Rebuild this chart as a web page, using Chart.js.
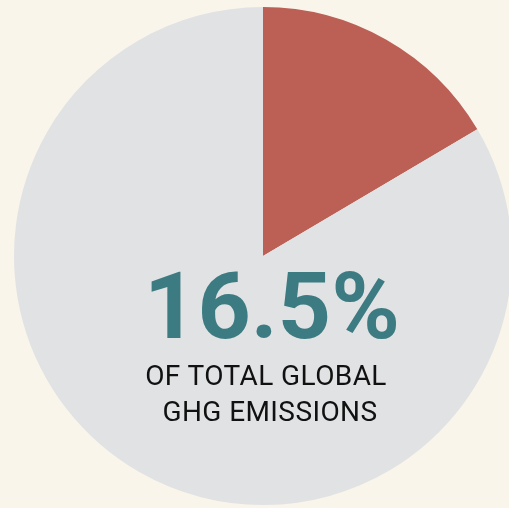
<!DOCTYPE html>
<html lang="en">

<head>
  <meta charset="UTF-8">
  <meta name="viewport" content="width=device-width, initial-scale=1.0">
  <title>GHG share</title>
  <style>
    body { margin: 0; background: #f9f5ea; overflow: hidden; width: 509px; height: 508px; position: relative; font-family: Roboto, sans-serif; }
    #caixa { position: absolute; left: 0; top: 7px; width: 526px; height: 498px; }
    .txt { position: absolute; width: 400px; text-align: center; white-space: nowrap; }
    #grande { top: 260px; left: 72px; font-size: 93px; line-height: 1; font-weight: 700; color: #3d7b82; }
    .linha { font-size: 28px; line-height: 36px; letter-spacing: 0.4px; color: #111; }
    #l1 { top: 358px; left: 66px; }
    #l2 { top: 394px; left: 70px; }
  </style>
</head>

<body>
  <div id="caixa"><canvas id="grafico1"></canvas></div>
  <div class="txt" id="grande">16.5%</div>
  <div class="txt linha" id="l1">OF TOTAL GLOBAL</div>
  <div class="txt linha" id="l2">GHG EMISSIONS</div>

  <script src="https://cdn.jsdelivr.net/npm/chart.js"></script>

  <script>
    const ctx = document.getElementById('grafico1');

    let labels = ["Share of global GHG emissions", "Rest of global emissions"]
    let valores = [16.5, 83.5]
    let cores = ["#bc5f55", "#e1e2e4"]

    let grafico1 = new Chart(ctx, {
      type: 'pie',
      data: {
        labels: labels,
        datasets: [{
          data: valores,
          backgroundColor: cores,
          borderWidth: 0
        }]
      },
      options: {
        responsive: true,
        maintainAspectRatio: false,
        animation: false,
        layout: { padding: 0 },
        plugins: {
          legend: { display: false },
          tooltip: { enabled: false }
        }
      }
    });
  </script>
</body>

</html>
